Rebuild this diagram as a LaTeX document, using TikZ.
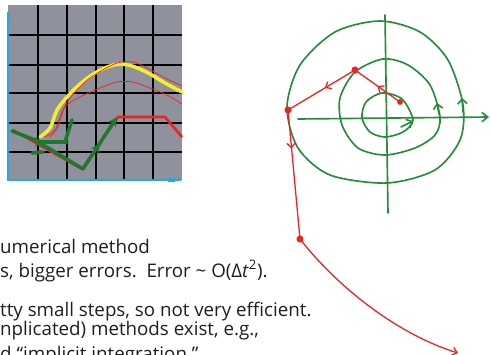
\documentclass[tikz,border=0pt]{standalone}
\usepackage{fontspec}
\setmainfont{Open Sans}
\usetikzlibrary{arrows.meta,decorations.markings}

\definecolor{panelgray}{RGB}{143,145,156}
\definecolor{sketchgreen}{RGB}{38,140,60}
\definecolor{plotgreen}{RGB}{30,120,45}
\definecolor{sketchred}{RGB}{235,35,35}
\definecolor{plotyellow}{RGB}{245,238,40}
\definecolor{axisblue}{RGB}{45,165,225}
\definecolor{textgray}{RGB}{30,30,30}

\tikzset{
  gridline/.style={black, line width=1.1pt},
  greenpen/.style={sketchgreen, line width=1.4pt, line cap=round, line join=round},
  redpen/.style={sketchred, line width=1.1pt, line cap=round, line join=round},
  plotpen/.style={plotgreen, line width=3pt, line cap=round, line join=round},
  midarrow/.style={postaction={decorate}, decoration={markings,
      mark=at position #1 with {\arrow{Straight Barb[length=4pt,width=7pt]}}}},
  plotarrow/.style={postaction={decorate}, decoration={markings,
      mark=at position #1 with {\arrow{Stealth[length=8pt,width=8pt]}}}},
  greentip/.style={greenpen, -{Straight Barb[length=4pt,width=8pt]}},
  reddot/.style={circle, fill=sketchred, inner sep=0pt, minimum size=6pt},
  bodytext/.style={anchor=base west, inner sep=0pt, text=textgray,
      font=\fontsize{16}{19}\selectfont},
}

\begin{document}
\begin{tikzpicture}[x=0.03cm, y=-0.03cm]
  \useasboundingbox (0,0) rectangle (491,355);
  \clip (0,0) rectangle (491,355);

  % plot panel
  \fill[panelgray] (8,5) rectangle (182,180);
  \foreach \gx in {38,67,96,124,153}
    \draw[gridline] (\gx,5) -- (\gx,180);
  \foreach \gy in {35,65,93,123,152}
    \draw[gridline] (8,\gy) -- (182,\gy);
  \draw[axisblue, line width=1.3pt] (8,13) -- (8,180) -- (181,180);
  \fill[axisblue] (6.5,12) rectangle (10,18);
  \fill[axisblue] (168,178) rectangle (175,182);

  % exact and approximate curves
  \draw[plotyellow, line width=3pt, line cap=round] plot[smooth] coordinates
    {(40,137) (50,128) (57,110) (67,97) (80,84) (95,73) (110,66) (122,64) (135,67) (150,74) (165,83) (182,92)};
  \draw[sketchred, line width=0.6pt] plot[smooth] coordinates
    {(45,137) (55,130) (62,112) (70,98) (86,81) (101,71) (117,63) (133,62) (147,68) (165,78) (182,86)};
  \draw[sketchred, line width=0.6pt] plot[smooth] coordinates
    {(50,137) (58,127) (65,107) (80,97) (100,88) (117,82) (133,82) (150,88) (167,95) (182,104)};
  \draw[sketchred, line width=2.2pt] (13,130) -- (82,169) -- (118,117) -- (165,117) -- (182,137);

  % green steps
  \draw[plotpen, plotarrow=0.6] (12,131) -- (40,142) -- (67,142);
  \draw[plotpen] (65,142) -- (72,120);
  \draw[plotpen, plotarrow=0.72, -{Stealth[length=8pt,width=8pt]}] (40,143) -- (83,169) -- (117,117);
  \draw[plotpen] (32,153) -- (43,152);

  % phase plane axes
  \draw[greenpen, -{Straight Barb[length=5pt,width=8pt]}] (298,119) -- (489,117);
  \draw[greenpen] (385,15) -- (388,213);

  % spiral loops
  \draw[greenpen] plot[smooth cycle] coordinates
    {(413,120) (402,99) (382,93) (366,102) (362,118) (370,132) (385,137) (403,132)};
  \draw[greenpen] plot[smooth cycle] coordinates
    {(440,117) (430,85) (408,65) (383,59) (355,72) (340,98) (342,125) (358,148) (385,155) (415,148) (435,135)};
  \draw[greenpen] plot[smooth cycle] coordinates
    {(463,105) (448,60) (420,32) (380,21) (335,32) (300,65) (287,107) (298,148) (330,175) (387,183) (435,170) (460,140)};
  \draw[greentip] (401,127) -- (413,121);
  \draw[greentip] (439,114) -- (437,103);
  \draw[greentip] (463,112) -- (462,98);

  % Euler steps
  \node[reddot, minimum size=5pt] (e0) at (400,102) {};
  \node[reddot] (e1) at (355,70) {};
  \node[reddot] (e2) at (288,110) {};
  \node[reddot] (e3) at (300,239) {};
  \coordinate (e4) at (458,353);
  \draw[redpen, midarrow=0.5] (e0.center) -- (e1.center);
  \draw[redpen, midarrow=0.45] (e1.center) -- (e2.center);
  \draw[redpen, midarrow=0.3] (e2.center) -- (e3.center);
  \draw[redpen, -{Straight Barb[length=4pt,width=7pt]}] (e3.center) .. controls (340,290) and (400,335) .. (e4);

  % text
  \node[bodytext] (line1) at (0,253) {umerical method};
  \node[bodytext] (line2) at (0,277) {s, bigger errors.\ \ Error \textasciitilde{} O(Δ\textit{t}\textsuperscript{2}).};
  \node[bodytext] (line3) at (0,316) {tty small steps, so not very efficient.};
  \node[bodytext] (line4) at (0,335) {nplicated) methods exist, e.g.,};
  \node[bodytext] (line5) at (0,360) {d “implicit integration.”};
\end{tikzpicture}
\end{document}
